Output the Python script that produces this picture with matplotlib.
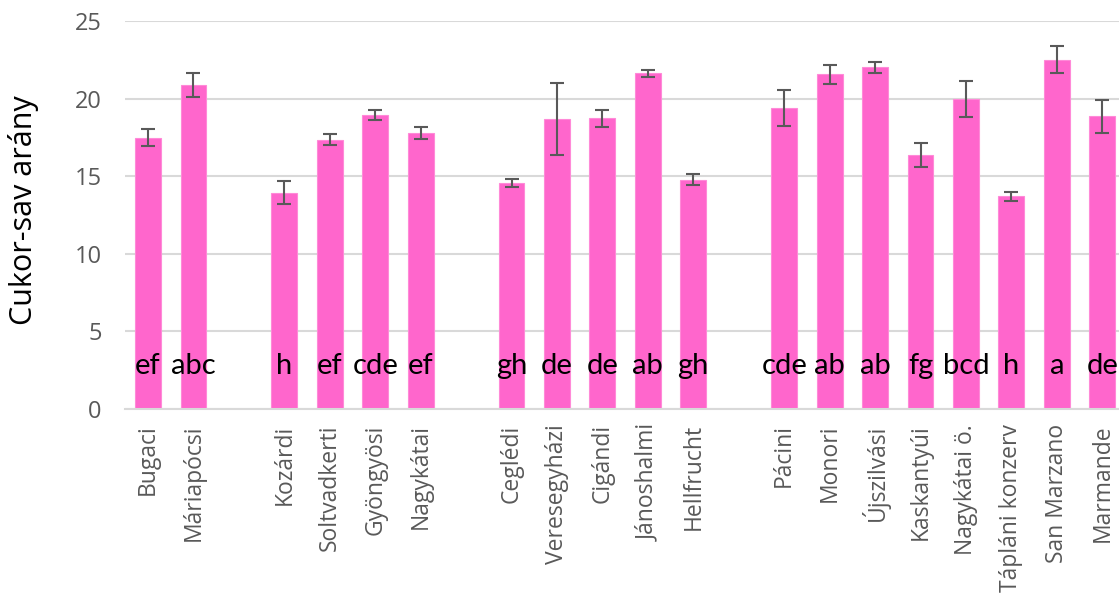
import numpy as np
import matplotlib
matplotlib.use('Agg')
from matplotlib import pyplot as plt

# fajták csoportonként (a csoportok között egy üres hely van)
groups = [
    ['Bugaci', 'Máriapócsi'],
    ['Kozárdi', 'Soltvadkerti', 'Gyöngyösi', 'Nagykátai'],
    ['Ceglédi', 'Veresegyházi', 'Cigándi', 'Jánoshalmi', 'Hellfrucht'],
    ['Pácini', 'Monori', 'Újszilvási', 'Kaskantyúi', 'Nagykátai ö.',
     'Tápláni konzerv', 'San Marzano', 'Marmande'],
]
values = [17.47, 20.88, 13.93, 17.36, 18.93, 17.78, 14.56, 18.68, 18.74,
          21.63, 14.78, 19.40, 21.56, 22.01, 16.36, 19.99, 13.70, 22.50, 18.86]
errors = [0.54, 0.77, 0.73, 0.37, 0.31, 0.40, 0.25, 2.30, 0.55,
          0.22, 0.36, 1.18, 0.62, 0.36, 0.75, 1.16, 0.30, 0.88, 1.06]
letters = ['ef', 'abc', 'h', 'ef', 'cde', 'ef', 'gh', 'de', 'de', 'ab', 'gh',
           'cde', 'ab', 'ab', 'fg', 'bcd', 'h', 'a', 'de']
letter_y = 2.8

names = []
pos = []
x = 0
for g in groups:
    for n in g:
        names.append(n)
        pos.append(x)
        x += 1
    x += 1          # üres hely a csoport után
pos = np.array(pos)

fig = plt.figure(figsize=(11.19, 5.95), dpi=100)
ax = fig.add_axes([125.3/1119, (595-409)/595, (1125-125.3)/1119, (409-21)/595])

ax.bar(pos, values, width=0.57, color='#FF66CC', edgecolor='#FF8AD8', linewidth=0.8, zorder=2)
ax.errorbar(pos, values, yerr=errors, fmt='none', ecolor='#595959',
            elinewidth=1.5, capsize=5, capthick=1.5, zorder=3)

for p, l in zip(pos, letters):
    ax.text(p, letter_y, l, ha='center', va='center', fontsize=21,
            family=['Lato', 'DejaVu Sans'], color='black', zorder=4)

ax.set_xlim(-0.5, pos[-1] + 0.5)
ax.set_ylim(0, 25)
ax.set_yticks([0, 5, 10, 15, 20, 25])
ax.yaxis.grid(True, color='#D9D9D9', linewidth=1.5, zorder=0)
ax.set_axisbelow(True)
for s in ['left', 'right', 'top']:
    ax.spines[s].set_visible(False)
ax.spines['bottom'].set_color('#D9D9D9')
ax.spines['bottom'].set_linewidth(1.5)

ax.set_xticks(pos)
ax.set_xticklabels(names, rotation=90, fontsize=16.5, family='Open Sans', color='#595959')
ax.tick_params(axis='x', length=0, pad=11)
ax.tick_params(axis='y', length=0, pad=17, labelsize=17, labelcolor='#595959')
for t in ax.get_yticklabels():
    t.set_family('Open Sans')

fig.text(24/1119, 1 - 210/595, 'Cukor-sav arány', rotation=90, ha='center', va='center',
         fontsize=22, family='Open Sans', color='black')

fig.savefig('out.png', dpi=100)
